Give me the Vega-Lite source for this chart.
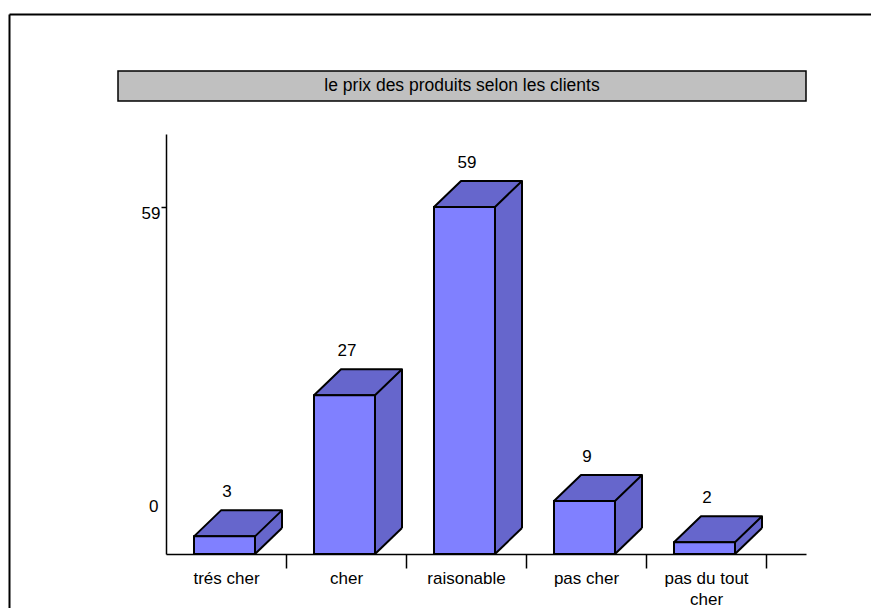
{
  "$schema": "https://vega.github.io/schema/vega-lite/v6.json",
  "usermeta": {"embedOptions": {"actions": false}},
  "padding": {"left": 9, "top": 14, "right": 0, "bottom": 0},
  "background": "white",
  "config": {"view": {"stroke": null}, "font": "Liberation Sans"},
  "spacing": -538,
  "align": "none",
  "vconcat": [
    {
      "width": 862,
      "height": 594,
      "data": {"values": [{"a": 0, "b": 0}]},
      "mark": {"type": "point", "opacity": 0},
      "encoding": {
        "x": {"field": "a", "type": "quantitative", "axis": {"orient": "top", "title": null, "labels": false, "ticks": false, "grid": false, "domainColor": "black", "domainWidth": 2}},
        "y": {"field": "b", "type": "quantitative", "axis": {"orient": "left", "title": null, "labels": false, "ticks": false, "grid": false, "domainColor": "black", "domainWidth": 2}}
      }
    },
    {
      "spacing": 32,
      "align": "none",
      "vconcat": [
        {
          "spacing": 0,
          "align": "none",
          "hconcat": [
            {"width": 108, "height": 10, "data": {"values": []}, "mark": "point"},
            {
              "width": 688,
              "height": 30,
              "view": {"fill": "#C0C0C0", "stroke": "black", "strokeWidth": 1.5},
              "data": {"values": [{"titre": "le prix des produits selon les clients"}]},
              "mark": {"type": "text", "font": "Liberation Sans", "fontSize": 17.5, "color": "black", "baseline": "middle"},
              "encoding": {"text": {"field": "titre"}}
            }
          ]
        },
        {
          "spacing": 0,
          "align": "none",
          "hconcat": [
            {"width": 108, "height": 10, "data": {"values": []}, "mark": "point"},
            {
              "width": 640,
              "height": 420,
              "data": {"values": [
                {"prix": "trés cher", "effectif": 3},
                {"prix": "cher", "effectif": 27},
                {"prix": "raisonable", "effectif": 59},
                {"prix": "pas cher", "effectif": 9},
                {"prix": "pas du tout cher", "effectif": 2}
              ]},
              "encoding": {
                "x": {
                  "field": "prix", "type": "nominal", "sort": null,
                  "scale": {"paddingInner": 0, "paddingOuter": 0.16667, "align": 0},
                  "axis": {
                    "title": null, "labelAngle": 0, "tickBand": "extent",
                    "domainColor": "black", "domainWidth": 1.5,
                    "tickColor": "black", "tickWidth": 1.5, "tickSize": 14,
                    "tickOpacity": {"condition": {"test": "!!datum.extra", "value": 0}, "value": 1},
                    "labelFont": "Liberation Sans", "labelFontSize": 17, "labelColor": "black",
                    "labelPadding": 2, "labelLineHeight": 21, "labelLimit": 0,
                    "labelExpr": "datum.value == 'pas du tout cher' ? ['pas du tout', 'cher'] : datum.value"
                  }
                },
                "y": {
                  "field": "effectif", "type": "quantitative",
                  "scale": {"domain": [0, 71.4], "nice": false, "zero": true},
                  "axis": {
                    "values": [0, 59], "title": null, "grid": false,
                    "domainColor": "black", "domainWidth": 1.5,
                    "tickColor": "black", "tickWidth": 1.5, "tickSize": 5,
                    "tickOpacity": {"condition": {"test": "datum.value === 0", "value": 0}, "value": 1},
                    "labelOffset": {"condition": {"test": "datum.value === 0", "value": -48}, "value": 7},
                    "labelPadding": {"condition": {"test": "datum.value === 0", "value": 3}, "value": 1},
                    "labelFont": "Liberation Sans", "labelFontSize": 17, "labelColor": "black",
                    "minExtent": 49
                  }
                }
              },
              "layer": [
                {
                  "mark": {"type": "bar", "width": 61, "xOffset": 25.5, "yOffset": -26, "y2Offset": -26, "fill": "#6666CC", "strokeWidth": 0}
                },
                {
                  "mark": {"type": "point", "shape": "M -1 -1.08 L -1 0.963 L 1 -0.963 L 1 -1.08 Z", "size": 729, "filled": true, "fill": "#6666CC", "opacity": 1, "strokeWidth": 0, "xOffset": 42.5, "yOffset": -13},
                  "encoding": {"y": {"datum": 0}}
                },
                {
                  "mark": {"type": "point", "shape": "M -1 0.2955 L 0.3864 0.2955 L 1 -0.2955 L -0.3864 -0.2955 Z", "size": 7744, "filled": true, "fill": "#6666CC", "stroke": "black", "strokeWidth": 2, "strokeJoin": "round", "opacity": 1, "xOffset": 12, "yOffset": -13}
                },
                {
                  "mark": {"type": "bar", "width": 61, "xOffset": -1.5, "fill": "#8080FF", "stroke": "black", "strokeWidth": 2}
                },
                {
                  "mark": {"type": "rule", "xOffset": 56, "yOffset": -26, "y2Offset": -26, "color": "black", "strokeWidth": 2},
                  "encoding": {"y2": {"datum": 0}}
                },
                {
                  "mark": {"type": "point", "shape": "M -1 0.963 L 1 -0.963", "size": 729, "filled": false, "stroke": "black", "strokeWidth": 2, "opacity": 1, "xOffset": 42.5, "yOffset": -13},
                  "encoding": {"y": {"datum": 0}}
                },
                {
                  "mark": {"type": "text", "font": "Liberation Sans", "fontSize": 17, "color": "black", "baseline": "middle", "xOffset": 1, "yOffset": -44},
                  "encoding": {"text": {"field": "effectif", "type": "quantitative"}}
                }
              ]
            }
          ]
        }
      ]
    }
  ]
}
